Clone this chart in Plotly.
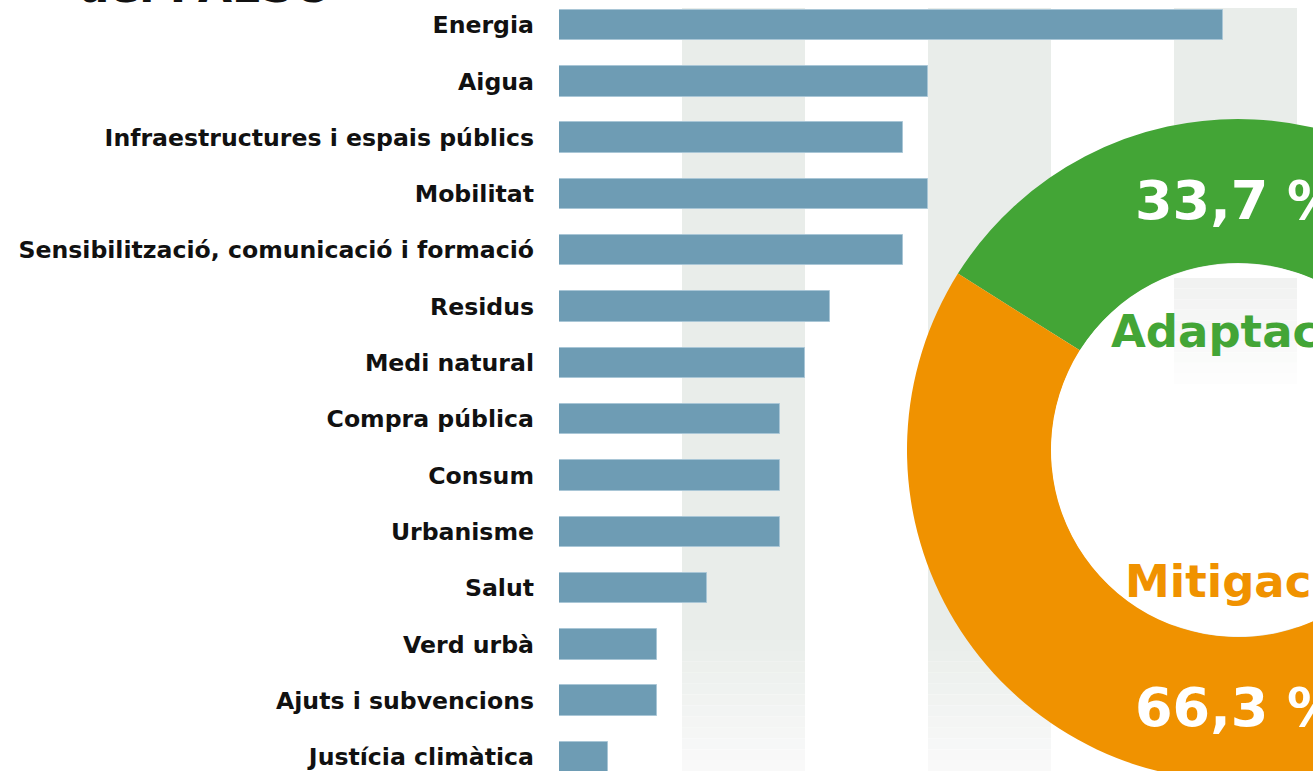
import plotly.graph_objects as go

# ---------------- data ----------------
categories = [
    "Energia", "Aigua", "Infraestructures i espais públics", "Mobilitat",
    "Sensibilització, comunicació i formació", "Residus", "Medi natural",
    "Compra pública", "Consum", "Urbanisme", "Salut", "Verd urbà",
    "Ajuts i subvencions", "Justícia climàtica",
]
values = [27, 15, 14, 15, 14, 11, 10, 9, 9, 9, 6, 4, 4, 2]

donut_labels = ["Adaptació", "Mitigació"]
donut_values = [33.7, 66.3]
donut_colors = ["#43A536", "#F09200"]

stripe_starts = [5, 15, 25]
stripe_width = 5

title_text = "del PAESC"

# ---------------- layout constants ----------------
VIEW_W, VIEW_H = 1313, 771          # visible window
FIG_W, FIG_H = 1600, 800            # figure is larger; the donut runs off the edge
PLOT_LEFT = 559
PX_PER_UNIT = 24.6
ROW0 = 25.0
ROW_STEP = 56.3

x_max = (VIEW_W - PLOT_LEFT) / PX_PER_UNIT
y_top = -ROW0 / ROW_STEP
y_bottom = y_top + VIEW_H / ROW_STEP

# donut geometry (pixels)
CX, CY, R = 1238, 450, 331
HOLE = 0.565


def px(xp):
    return xp / FIG_W


def py(yp):
    return 1 - yp / FIG_H


fig = go.Figure()

fig.add_trace(go.Bar(
    orientation="h",
    x=values,
    y=categories,
    width=0.54,
    marker=dict(color="#6E9CB4", line=dict(color="#A9C6D6", width=1)),
    hoverinfo="x+y",
    showlegend=False,
))

fig.add_trace(go.Pie(
    labels=donut_labels,
    values=donut_values,
    hole=HOLE,
    sort=False,
    direction="clockwise",
    rotation=-57.8,
    marker=dict(colors=donut_colors, line=dict(width=0)),
    textinfo="none",
    showlegend=False,
    domain=dict(x=[px(CX - R), px(CX + R)], y=[py(CY + R), py(CY - R)]),
))


def mix(a, b, t):
    return "rgb(%d,%d,%d)" % tuple(round(a[k] + (b[k] - a[k]) * t) for k in range(3))


shapes = []
# background stripes with a fade at the bottom
STRIPE_TOP = 8
fade_start = 640
n_steps = 12
c0 = (233, 237, 234)
c1 = (250, 250, 250)
for s in stripe_starts:
    shapes.append(dict(type="rect", xref="x", yref="paper", x0=s, x1=s + stripe_width,
                       y0=py(fade_start), y1=py(STRIPE_TOP), fillcolor=mix(c0, c0, 0),
                       line=dict(width=0), layer="below"))
    step = (VIEW_H - fade_start) / n_steps
    for i in range(n_steps):
        t = (i + 0.5) / n_steps
        shapes.append(dict(type="rect", xref="x", yref="paper", x0=s, x1=s + stripe_width,
                           y0=py(fade_start + (i + 1) * step), y1=py(fade_start + i * step),
                           fillcolor=mix(c0, c1, t), line=dict(width=0), layer="below"))

# white donut hole
rh = HOLE * R - 0.5
shapes.append(dict(type="circle", xref="paper", yref="paper",
                   x0=px(CX - rh), x1=px(CX + rh), y0=py(CY + rh), y1=py(CY - rh),
                   fillcolor="white", line=dict(width=0), layer="above"))

# faint stripe showing through the top of the hole
h0, h1, hn = 278, 384, 10
hc0, hc1 = (240, 241, 240), (254, 254, 254)
hs = stripe_starts[-1]
for i in range(hn):
    t = (i + 0.5) / hn
    shapes.append(dict(type="rect", xref="x", yref="paper", x0=hs, x1=hs + stripe_width,
                       y0=py(h0 + (i + 1) * (h1 - h0) / hn), y1=py(h0 + i * (h1 - h0) / hn),
                       fillcolor=mix(hc0, hc1, t), line=dict(width=0), layer="above"))


def pct(v):
    return ("%.1f" % v).replace(".", ",") + " %"


BIG = "DejaVu Sans"
annotations = [
    dict(text="<b>%s</b>" % title_text, x=px(76), y=py(14), xref="paper", yref="paper",
         xanchor="left", yanchor="bottom", showarrow=False,
         font=dict(family=BIG, size=44, color="#111111")),
    dict(text="<b>%s</b>" % pct(donut_values[0]),
         x=px(CX), y=py(201), xref="paper", yref="paper",
         xanchor="center", yanchor="middle", showarrow=False,
         font=dict(family=BIG, size=54, color="white")),
    dict(text="<b>%s</b>" % donut_labels[0],
         x=px(CX), y=py(331), xref="paper", yref="paper",
         xanchor="center", yanchor="middle", showarrow=False,
         font=dict(family=BIG, size=45, color=donut_colors[0])),
    dict(text="<b>%s</b>" % donut_labels[1],
         x=px(CX + 3), y=py(581), xref="paper", yref="paper",
         xanchor="center", yanchor="middle", showarrow=False,
         font=dict(family=BIG, size=45, color=donut_colors[1])),
    dict(text="<b>%s</b>" % pct(donut_values[1]),
         x=px(CX), y=py(707), xref="paper", yref="paper",
         xanchor="center", yanchor="middle", showarrow=False,
         font=dict(family=BIG, size=54, color="white")),
]

fig.update_layout(
    width=FIG_W, height=FIG_H,
    margin=dict(l=0, r=0, t=0, b=0, pad=0),
    paper_bgcolor="white",
    plot_bgcolor="rgba(0,0,0,0)",
    bargap=0,
    xaxis=dict(domain=[px(PLOT_LEFT), px(VIEW_W)], range=[0, x_max], visible=False,
               fixedrange=True),
    yaxis=dict(type="category", categoryorder="array", categoryarray=categories,
               range=[y_bottom, y_top], domain=[py(VIEW_H), 1], showgrid=False,
               zeroline=False, showline=False, ticks="", ticklabelstandoff=24,
               tickfont=dict(family="DejaVu Sans", size=23.6, color="#111111", weight="bold"),
               automargin=False, fixedrange=True),
    shapes=shapes,
    annotations=annotations,
)

fig.write_html(
    "out.html",
    post_script=(
        "document.body.style.margin='0';"
        "document.body.style.overflow='hidden';"
        "document.documentElement.style.overflow='hidden';"
    ),
)
